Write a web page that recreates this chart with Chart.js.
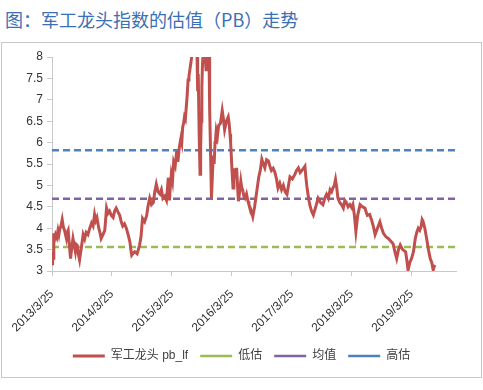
<!DOCTYPE html>
<html>
<head>
<meta charset="utf-8">
<script src="https://cdn.jsdelivr.net/npm/chart.js@4.4.1/dist/chart.umd.min.js"></script>
<style>
  body { margin: 0; background: #fff; }
  #title {
    position: absolute; left: 5px; top: 6px;
    font: 18px "Noto Sans CJK SC", sans-serif; color: #3a70b5;
  }
  #frame {
    position: absolute; left: 1px; top: 42px; width: 479px; height: 334px;
    border: 1px solid #c8c8c8;
  }
  #wrap { position: absolute; left: 0; top: 0; width: 483px; height: 390px; }
</style>
</head>
<body>
<div id="title">图：军工龙头指数的估值（PB）走势</div>
<div id="frame"></div>
<div id="wrap"><canvas id="myChart"></canvas></div>
<script>
// years since 2013/3/25
const t = [0.00, 0.01, 0.02, 0.03, 0.045, 0.06, 0.08, 0.10, 0.115, 0.13,
  0.15, 0.17, 0.19, 0.21, 0.225, 0.24, 0.255, 0.27, 0.29, 0.31,
  0.33, 0.35, 0.37, 0.39, 0.405, 0.42, 0.44, 0.46, 0.49, 0.52,
  0.545, 0.57, 0.60, 0.63, 0.66, 0.685, 0.71, 0.73, 0.75, 0.78,
  0.80, 0.82, 0.85, 0.88, 0.895, 0.91, 0.935, 0.96, 0.99, 1.02,
  1.045, 1.07, 1.10, 1.13, 1.155, 1.18, 1.21, 1.24, 1.27, 1.30,
  1.315, 1.33, 1.355, 1.38, 1.42, 1.46, 1.485, 1.51, 1.545, 1.58,
  1.60, 1.63, 1.66, 1.69, 1.715, 1.74, 1.77, 1.80, 1.825, 1.85,
  1.88, 1.91, 1.925, 1.94, 1.95, 1.96, 1.975, 1.99, 2.01, 2.03,
  2.055, 2.08, 2.09, 2.10, 2.125, 2.15, 2.165, 2.18, 2.195, 2.21,
  2.225, 2.24, 2.255, 2.27, 2.285, 2.30, 2.315, 2.33, 2.36, 2.39,
  2.42, 2.43, 2.44, 2.455, 2.47, 2.48, 2.49, 2.50, 2.51, 2.53,
  2.55, 2.57, 2.58, 2.59, 2.61, 2.62, 2.63, 2.645, 2.66, 2.675,
  2.69, 2.705, 2.72, 2.73, 2.74, 2.76, 2.78, 2.81, 2.84, 2.86,
  2.88, 2.91, 2.94, 2.955, 2.97, 2.98, 2.99, 3.005, 3.02, 3.035,
  3.05, 3.065, 3.08, 3.095, 3.11, 3.13, 3.15, 3.165, 3.18, 3.20,
  3.22, 3.245, 3.27, 3.285, 3.30, 3.325, 3.35, 3.38, 3.41, 3.43,
  3.45, 3.475, 3.50, 3.525, 3.55, 3.58, 3.61, 3.635, 3.66, 3.69,
  3.72, 3.745, 3.77, 3.80, 3.83, 3.86, 3.89, 3.92, 3.945, 3.97,
  4.01, 4.05, 4.08, 4.11, 4.14, 4.17, 4.195, 4.22, 4.235, 4.25,
  4.275, 4.30, 4.33, 4.36, 4.40, 4.44, 4.48, 4.52, 4.55, 4.58,
  4.61, 4.64, 4.665, 4.69, 4.71, 4.73, 4.75, 4.77, 4.80, 4.83,
  4.86, 4.885, 4.91, 4.94, 4.97, 5.00, 5.02, 5.045, 5.07, 5.10,
  5.14, 5.18, 5.22, 5.26, 5.30, 5.33, 5.36, 5.39, 5.43, 5.47,
  5.50, 5.53, 5.57, 5.61, 5.65, 5.69, 5.72, 5.75, 5.78, 5.81,
  5.85, 5.90, 5.92, 5.94, 5.97, 6.00, 6.03, 6.06, 6.085, 6.11,
  6.135, 6.16, 6.175, 6.19, 6.22, 6.25, 6.28, 6.31, 6.335, 6.36,
  6.375, 6.39];
const pb = [3.17, 3.45, 3.30, 3.88, 3.75, 3.85, 3.78, 3.95, 3.85, 3.98,
  4.05, 4.20, 4.02, 3.95, 3.85, 3.76, 3.90, 3.95, 3.60, 3.29,
  3.55, 3.76, 3.60, 3.45, 3.62, 3.60, 3.40, 3.26, 3.55, 3.85,
  3.75, 3.90, 3.85, 4.00, 4.12, 4.05, 4.32, 4.18, 4.25, 4.00,
  3.90, 3.76, 3.85, 3.95, 4.20, 4.47, 4.35, 4.40, 4.30, 4.25,
  4.40, 4.47, 4.38, 4.30, 4.15, 4.05, 4.10, 4.00, 3.85, 3.68,
  3.50, 3.37, 3.42, 3.45, 3.40, 3.60, 3.80, 4.23, 4.15, 4.30,
  4.50, 4.70, 4.55, 4.60, 4.85, 5.03, 4.85, 4.80, 4.90, 4.70,
  4.75, 4.65, 4.90, 5.18, 4.80, 4.65, 5.00, 5.25, 5.10, 5.55,
  5.45, 5.80, 5.65, 5.55, 5.90, 6.10, 6.00, 6.36, 6.45, 6.60,
  6.55, 6.83, 7.10, 7.46, 7.55, 7.70, 7.85, 8.00, 8.40, 8.40,
  8.00, 7.20, 7.60, 6.20, 5.26, 5.90, 6.50, 7.30, 7.80, 8.30,
  8.10, 7.70, 8.20, 7.90, 8.30, 8.00, 6.80, 5.80, 4.70, 5.20,
  5.70, 5.50, 6.00, 6.10, 6.28, 6.15, 6.40, 6.45, 6.75, 6.55,
  6.30, 6.50, 6.60, 6.45, 6.20, 6.00, 5.73, 5.30, 4.94, 5.20,
  5.40, 5.15, 5.41, 5.00, 4.63, 4.85, 5.10, 4.95, 4.90, 4.75,
  4.70, 4.80, 4.63, 4.55, 4.50, 4.40, 4.27, 4.50, 4.80, 5.00,
  5.20, 5.35, 5.61, 5.50, 5.41, 5.60, 5.57, 5.45, 5.35, 5.40,
  5.30, 5.15, 4.94, 5.05, 4.90, 5.00, 4.85, 4.79, 5.00, 5.20,
  5.15, 5.25, 5.35, 5.41, 5.30, 5.35, 5.40, 5.45, 5.20, 5.00,
  4.75, 4.55, 4.40, 4.31, 4.50, 4.70, 4.60, 4.55, 4.70, 4.79,
  4.70, 4.90, 4.85, 4.95, 5.00, 5.14, 4.95, 4.70, 4.60, 4.55,
  4.47, 4.65, 4.60, 4.50, 4.55, 4.48, 4.55, 4.30, 3.92, 4.30,
  4.55, 4.50, 4.47, 4.30, 4.32, 4.20, 4.05, 3.85, 4.00, 4.15,
  4.00, 3.88, 3.80, 3.76, 3.70, 3.64, 3.45, 3.29, 3.50, 3.61,
  3.50, 3.45, 3.25, 3.02, 3.20, 3.30, 3.45, 3.75, 3.90, 4.00,
  3.95, 4.05, 4.20, 4.16, 4.00, 3.76, 3.50, 3.29, 3.20, 3.02,
  3.10, 3.14];
const low = 3.56;
const avg = 4.69;
const high = 5.82;
const xEnd = 6.74;
const yTicks = [3, 3.5, 4, 4.5, 5, 5.5, 6, 6.5, 7, 7.5, 8];

const pbLine = t.map((v, i) => ({ x: v, y: pb[i] }));
function flat(v) {
  return [{ x: 0, y: v }, { x: xEnd, y: v }];
}

const font = { family: "'Liberation Sans', 'Noto Sans CJK SC', sans-serif", size: 12 };

new Chart(document.getElementById("myChart"), {
  type: "line",
  data: {
    datasets: [
      { label: "军工龙头 pb_lf", data: pbLine, borderColor: "#c0504d", borderWidth: 3, pointRadius: 0, tension: 0 },
      { label: "低估", data: flat(low), borderColor: "#9bbb59", borderWidth: 2.5, borderDash: [7, 4], pointRadius: 0 },
      { label: "均值", data: flat(avg), borderColor: "#8064a2", borderWidth: 2.5, borderDash: [7, 4], pointRadius: 0 },
      { label: "高估", data: flat(high), borderColor: "#4f81bd", borderWidth: 2.5, borderDash: [7, 4], pointRadius: 0 },
    ],
  },
  options: {
    responsive: true,
    maintainAspectRatio: false,
    animation: false,
    layout: { padding: { left: 0, right: 0, top: 57, bottom: 18 } },
    plugins: {
      tooltip: { enabled: false },
      legend: {
        position: "bottom",
        labels: {
          usePointStyle: true,
          pointStyle: "line",
          pointStyleWidth: 32,
          padding: 12,
          color: "#404040",
          font: font,
        },
      },
    },
    scales: {
      x: {
        type: "linear",
        min: 0,
        max: xEnd,
        afterFit: (s) => { s.height = 67; },
        border: { color: "#c8c8c8", width: 1 },
        grid: { drawOnChartArea: false, drawTicks: true, tickLength: 5, color: "#c8c8c8" },
        ticks: {
          stepSize: 1,
          includeBounds: false,
          minRotation: 45,
          maxRotation: 45,
          color: "#333",
          font: font,
          padding: 11,
          callback: (v) => (2013 + v) + "/3/25",
        },
      },
      y: {
        min: 3,
        max: 8,
        afterFit: (s) => { s.width = 52; },
        afterBuildTicks: (s) => { s.ticks = yTicks.map((v) => ({ value: v })); },
        border: { color: "#c8c8c8", width: 1 },
        grid: { drawOnChartArea: false, drawTicks: true, tickLength: 5, color: "#c8c8c8" },
        ticks: { color: "#333", font: font, padding: 4, callback: (v) => String(v) },
      },
      pad: {
        position: "right",
        afterFit: (s) => { s.width = 27; },
        ticks: { display: false },
        grid: { display: false },
        border: { display: false },
      },
    },
  },
});
</script>
</body>
</html>
